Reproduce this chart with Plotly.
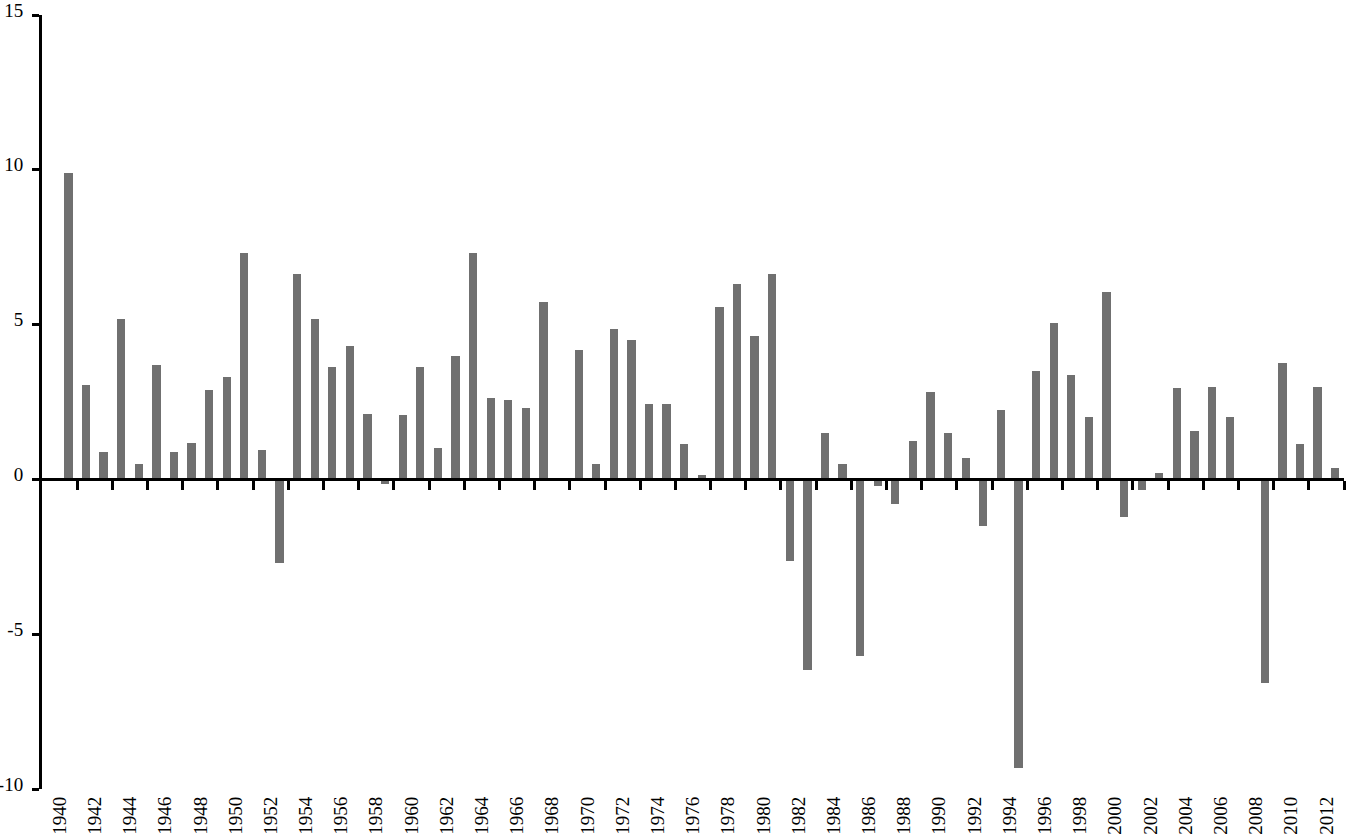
import plotly.graph_objects as go

# Years on the category axis (1940 has no bar)
YEARS = list(range(1940, 2014))

# Annual values, 1940..2013 (None = no bar)
VALUES = [
    None, 9.9, 3.05, 0.89, 5.18, 0.51, 3.7, 0.89, 1.18, 2.89,   # 1940-1949
    3.31, 7.32, 0.95, -2.69, 6.64, 5.18, 3.63, 4.31, 2.12, -0.14,  # 1950-1959
    2.08, 3.63, 1.02, 3.99, 7.32, 2.63, 2.57, 2.31, 5.73, None,  # 1960-1969
    4.18, 0.5, 4.86, 4.51, 2.44, 2.44, 1.15, 0.15, 5.57, 6.31,  # 1970-1979
    4.63, 6.64, -2.62, -6.15, 1.5, 0.5, -5.7, -0.21, -0.81, 1.24,  # 1980-1989
    2.83, 1.5, 0.69, -1.52, 2.24, -9.31, 3.5, 5.05, 3.38, 2.02,  # 1990-1999
    6.06, -1.2, -0.34, 0.21, 2.96, 1.57, 2.99, 2.02, None, -6.56,  # 2000-2009
    3.76, 1.15, 2.99, 0.37,  # 2010-2013
]

# Labels every second year, centred on each two-year group
LABEL_YEARS = YEARS[::2]
Y_TICKS = [-10, -5, 0, 5, 10, 15]

SERIF = "Liberation Serif, Times New Roman, serif"
YFONT = dict(family=SERIF, size=19, color="black")
XFONT = dict(family=SERIF, size=19, color="black")
BAR_COLOR = "#707070"

fig = go.Figure()
fig.add_trace(go.Bar(
    x=YEARS, y=VALUES,
    width=0.47,
    marker_color=BAR_COLOR,
    marker_line_width=0,
    showlegend=False,
))
# empty trace so the zero-line axis gets drawn
fig.add_trace(go.Scatter(x=[], y=[], xaxis="x2", showlegend=False, hoverinfo="skip"))

x_range = [YEARS[0] - 0.5, YEARS[-1] + 0.5]

fig.update_layout(
    width=1346, height=836,
    plot_bgcolor="white", paper_bgcolor="white",
    margin=dict(l=42, r=2, t=15, b=47, autoexpand=False),
    font=YFONT,
    bargap=0,
    xaxis=dict(
        range=x_range,
        tickmode="array",
        tickvals=[y + 0.5 for y in LABEL_YEARS],
        ticktext=[str(y) for y in LABEL_YEARS],
        tickangle=-90,
        ticks="",
        ticklabelstandoff=3,
        ticklabeloverflow="allow",
        automargin=False,
        showline=False, showgrid=False, zeroline=False,
        tickfont=XFONT,
    ),
    xaxis2=dict(
        overlaying="x",
        anchor="free",
        position=0.4,
        range=x_range,
        tickmode="array",
        tickvals=[y + 1.5 for y in LABEL_YEARS],
        showticklabels=False,
        ticks="outside", ticklen=9, tickwidth=3, tickcolor="black",
        showline=True, linewidth=3, linecolor="black",
        showgrid=False, zeroline=False,
        automargin=False,
    ),
    yaxis=dict(
        range=[-10, 15],
        tickmode="array",
        tickvals=Y_TICKS,
        ticktext=[str(v) for v in Y_TICKS],
        ticks="outside", ticklen=7, tickwidth=3, tickcolor="black",
        ticklabelstandoff=5,
        ticklabelshift=-5,
        ticklabeloverflow="allow",
        automargin=False,
        showline=True, linewidth=3, linecolor="black",
        showgrid=False, zeroline=False,
        tickfont=YFONT,
    ),
)

# drop the browser's default body margin so the figure sits at the page corner
fig.write_html(
    "out.html",
    config={"displayModeBar": False},
    post_script="document.body.style.margin = '0';",
)
